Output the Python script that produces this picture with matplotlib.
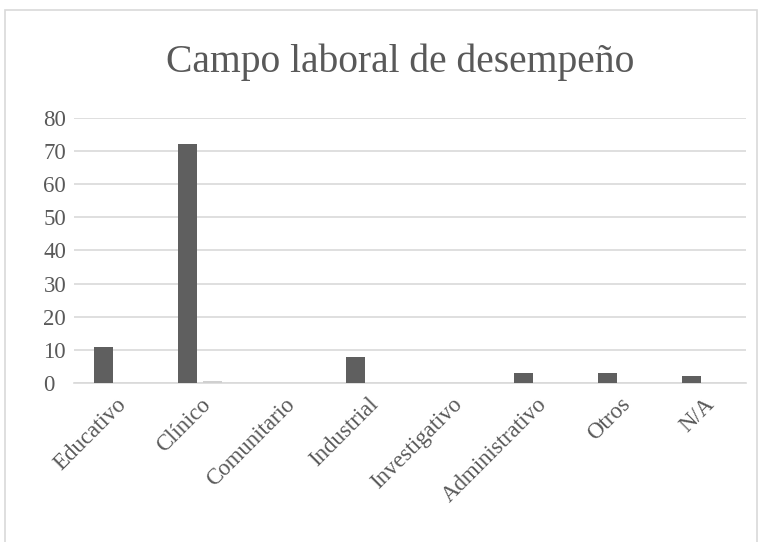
import matplotlib.pyplot as plt
from matplotlib.patches import Rectangle
import numpy as np

categorias = ['Educativo', 'Clínico', 'Comunitario', 'Industrial', 'Investigativo',
              'Administrativo', 'Otros', 'N/A']
frecuencia = [11, 72, 0, 8, 0, 3, 3, 2]
porcentaje = [0.11, 0.72, 0, 0.08, 0, 0.03, 0.03, 0.02]

plt.rcParams['font.family'] = ['Liberation Serif', 'DejaVu Serif']
gris_texto = '#595959'

fig = plt.figure(figsize=(7.67, 5.42), dpi=100)
W, H = 767, 542
ax = fig.add_axes([74 / W, 1 - 383 / H, (746 - 74) / W, (383 - 118) / H])

x = np.arange(len(categorias))
ancho = 0.225
ax.bar(x - 0.145, frecuencia, width=ancho, color='#5f5f5f', zorder=3)
ax.bar(x + 0.145, porcentaje, width=ancho, color='#d0d0d0', zorder=3)

ax.set_xlim(-0.5, len(categorias) - 0.5)
ax.set_ylim(0, 80)
ax.set_yticks(range(0, 81, 10))
ax.yaxis.grid(True, color='#d9d9d9', linewidth=1.2, zorder=0)
for s in ['top', 'right', 'left']:
    ax.spines[s].set_visible(False)
ax.spines['bottom'].set_color('#d9d9d9')
ax.spines['bottom'].set_linewidth(1.2)
ax.tick_params(axis='both', length=0, colors=gris_texto, labelsize=16.5)
ax.tick_params(axis='y', pad=22)
ax.tick_params(axis='x', pad=8)
for lbl in ax.get_yticklabels():
    lbl.set_horizontalalignment('left')
ax.set_xticks(x)
ax.set_xticklabels(categorias, rotation=45, ha='right', rotation_mode='anchor')

fig.text(400 / W, 1 - 62 / H, 'Campo laboral de desempeño', ha='center', va='center',
         fontsize=28.5, color=gris_texto)

fig.patches.append(Rectangle((5 / W, -0.1), (757 - 5) / W, 1.1 - 10 / H,
                             transform=fig.transFigure, fill=False,
                             edgecolor='#d9d9d9', linewidth=1.2))

fig.savefig('out.png', dpi=100)
